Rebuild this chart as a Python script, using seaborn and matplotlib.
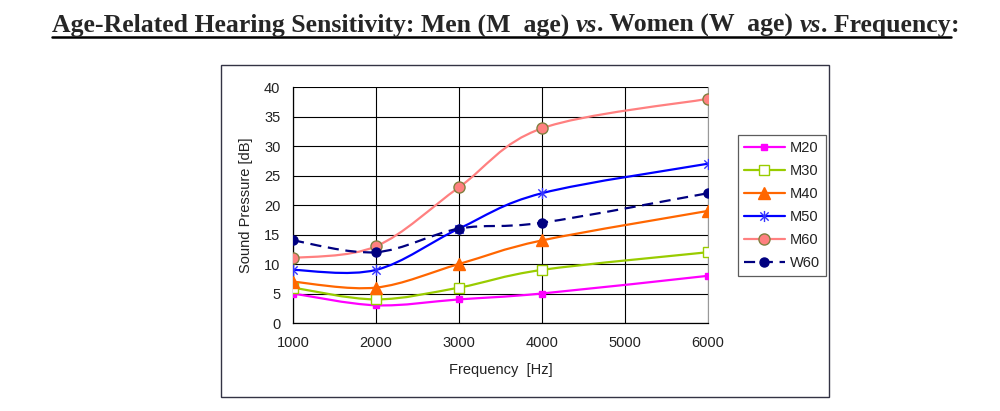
import numpy as np
import matplotlib
matplotlib.use("Agg")
import matplotlib.pyplot as plt
from matplotlib.path import Path
from matplotlib.patches import PathPatch, Rectangle
from matplotlib.lines import Line2D
import seaborn as sns

# Data
freq = [1000, 2000, 3000, 4000, 6000]
m20 = [5, 3, 4, 5, 8]
m30 = [6, 4, 6, 9, 12]
m40 = [7, 6, 10, 14, 19]
m50 = [9, 9, 16, 22, 27]
m60 = [11, 13, 23, 33, 38]
w60 = [14, 12, 16, 17, 22]
labels = ["M20", "M30", "M40", "M50", "M60", "W60"]
series = [m20, m30, m40, m50, m60, w60]

# asterisk marker like Excel's "*"
star = Path([(0, -1), (0, 1), (-0.75, -0.75), (0.75, 0.75), (-0.75, 0.75), (0.75, -0.75)],
            [Path.MOVETO, Path.LINETO, Path.MOVETO, Path.LINETO, Path.MOVETO, Path.LINETO])

styles = {
    "M20": dict(color="#FF00FF", marker="s", ms=4.5, mfc="#FF00FF", mec="#FF00FF", ls="-"),
    "M30": dict(color="#99CC00", marker="s", ms=7.5, mfc="white", mec="#99CC00", ls="-"),
    "M40": dict(color="#FF6600", marker="^", ms=8.5, mfc="#FF6600", mec="#FF6600", ls="-"),
    "M50": dict(color="#0000FF", marker=star, ms=8, mfc="#0000FF", mec="#3333FF", ls="-"),
    "M60": dict(color="#FF8080", marker="o", ms=8, mfc="#FF8080", mec="#808040", ls="-"),
    "W60": dict(color="#000080", marker="o", ms=6.5, mfc="#000080", mec="#000080", ls=(0, (5, 3))),
}

sns.set_style("white")
plt.rcParams["font.family"] = ["Liberation Sans", "DejaVu Sans"]


def smooth_path(xs, ys):
    # Excel-style smoothed line: Catmull-Rom as cubic Bezier through the data points
    pts = np.column_stack([xs, ys]).astype(float)
    ext = np.vstack([pts[0], pts, pts[-1]])
    verts = [tuple(pts[0])]
    codes = [Path.MOVETO]
    for i in range(len(pts) - 1):
        p0, p1, p2, p3 = ext[i], ext[i + 1], ext[i + 2], ext[i + 3]
        c1 = p1 + (p2 - p0) / 6
        c2 = p2 - (p3 - p1) / 6
        verts += [tuple(c1), tuple(c2), tuple(p2)]
        codes += [Path.CURVE4] * 3
    return Path(verts, codes)


fig = plt.figure(figsize=(10, 4.11), dpi=100)
ax = fig.add_axes([0.293, 1 - 323 / 411, 0.708 - 0.293, (323 - 87) / 411])

for lab, ys in zip(labels, series):
    st = styles[lab]
    ax.add_patch(PathPatch(smooth_path(freq, ys), fill=False, edgecolor=st["color"],
                           lw=1.6, linestyle=st["ls"], capstyle="butt", zorder=3))
    sns.lineplot(x=freq, y=ys, ax=ax, lw=0, marker=st["marker"], markersize=st["ms"],
                 markerfacecolor=st["mfc"], markeredgecolor=st["mec"], markeredgewidth=1.0,
                 color=st["color"], zorder=4, legend=False)

ax.set_xlim(1000, 6000)
ax.set_ylim(0, 40)
ax.set_xticks(range(1000, 6001, 1000))
ax.set_yticks(range(0, 41, 5))
ax.grid(True, color="black", lw=0.8)
ax.set_axisbelow(True)
for s in ["left", "bottom"]:
    ax.spines[s].set_color("black")
    ax.spines[s].set_linewidth(0.9)
ax.spines["top"].set_visible(False)
ax.spines["right"].set_color("#999999")
ax.spines["right"].set_linewidth(0.8)
ax.tick_params(direction="out", length=5, width=0.9, color="black",
               labelsize=10.5, labelcolor="#222222", pad=4)
ax.set_xlabel("Frequency  [Hz]", fontsize=10.5, color="#222222", labelpad=10)
ax.set_ylabel("Sound Pressure [dB]", fontsize=10.5, color="#222222", labelpad=8)

# legend
handles = []
for lab in labels:
    st = styles[lab]
    handles.append(Line2D([], [], color=st["color"], lw=1.6, linestyle=st["ls"],
                          marker=st["marker"], markersize=st["ms"], markerfacecolor=st["mfc"],
                          markeredgecolor=st["mec"]))
leg = fig.legend(handles, labels, loc="upper left", bbox_to_anchor=(0.738, 1 - 135 / 411),
                 bbox_transform=fig.transFigure, fontsize=10.5, frameon=True, fancybox=False,
                 borderaxespad=0, handlelength=2.8, handletextpad=0.35, labelspacing=0.62,
                 borderpad=0.4)
leg.get_frame().set_edgecolor("#333333")
leg.get_frame().set_linewidth(0.9)
for t in leg.get_texts():
    t.set_color("#222222")

# outer chart frame
fig.patches.append(Rectangle((0.221, 1 - 397 / 411), 0.608, (397 - 65) / 411,
                             transform=fig.transFigure, fill=False, edgecolor="#333344", lw=1.0))

# title with italic "vs" parts and underline
pieces = [("Age-Related Hearing Sensitivity: Men (M  age) ", "normal"),
          ("vs", "italic"), (". Women (W  age) ", "normal"), ("vs", "italic"),
          (". Frequency", "normal"), (":", "normal")]
renderer = fig.canvas.get_renderer()
x = 52 / 1000
y_base = 1 - 32 / 411
underline_end = x
for txt, style in pieces:
    t = fig.text(x, y_base, txt, fontsize=18.5, fontweight="bold", fontstyle=style,
                 family=["Liberation Serif", "DejaVu Serif"], va="baseline", ha="left")
    bb = t.get_window_extent(renderer)
    if txt != ":":
        underline_end = bb.x1 / fig.bbox.width
    x = bb.x1 / fig.bbox.width
fig.add_artist(Line2D([52 / 1000, underline_end], [1 - 37.5 / 411, 1 - 37.5 / 411],
                      transform=fig.transFigure, color="black", lw=1.8))

fig.savefig("out.png", dpi=100, facecolor="white")
